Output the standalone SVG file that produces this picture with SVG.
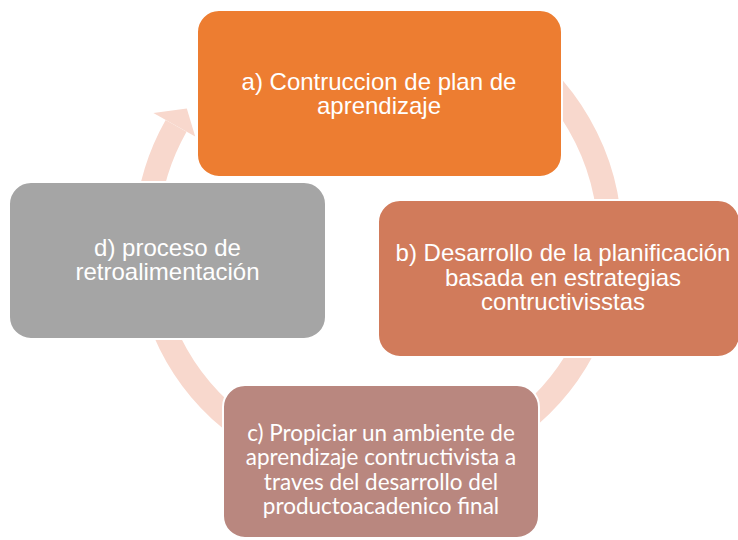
<svg xmlns="http://www.w3.org/2000/svg" width="738" height="540" viewBox="0 0 738 540">
  <style>
    .arc { fill: none; stroke: #F8D8CD; stroke-width: 24; }
    .head { fill: #F8D8CD; }
    .box { stroke: #FFFFFF; stroke-width: 2; }
    .t { font-family: "Liberation Sans", Arial, sans-serif; font-size: 24px; fill: #FFFFFF; text-anchor: middle; }
    .tc { font-family: Lato, "Liberation Sans", sans-serif; font-size: 22.5px; fill: #FFFFFF; text-anchor: middle; }
  </style>
  <rect width="738" height="540" fill="#FFFFFF"/>
  <g id="connectors">
    <path class="arc" d="M610,240 A232,232 0 1 1 176.1,125.8"/>
    <path class="arc" d="M494,39.1 A232,232 0 0 1 610,240"/>
    <polygon class="head" points="153.4,113 186.8,108.6 195.2,136.6"/>
  </g>
  <g id="node-a">
    <rect class="box" x="197" y="10" width="365" height="167" rx="22" fill="#ED7D31"/>
    <text class="t" x="379" y="90">a) Contruccion de plan de</text>
    <text class="t" x="379" y="114">aprendizaje</text>
  </g>
  <g id="node-b">
    <rect class="box" x="378" y="200" width="362" height="157" rx="22" fill="#D17B5B"/>
    <text class="t" x="563" y="261">b) Desarrollo de la planificación</text>
    <text class="t" x="563" y="285.5">basada en estrategias</text>
    <text class="t" x="563" y="310">contructivisstas</text>
  </g>
  <g id="node-c">
    <rect class="box" x="223" y="385" width="316" height="153" rx="22" fill="#B9877F"/>
    <text class="tc" x="381" y="440.5">c) Propiciar un ambiente de</text>
    <text class="tc" x="381" y="465">aprendizaje contructivista a</text>
    <text class="tc" x="381" y="489.5">traves del desarrollo del</text>
    <text class="tc" x="381" y="514">productoacadenico final</text>
  </g>
  <g id="node-d">
    <rect class="box" x="9" y="182" width="317" height="157" rx="22" fill="#A5A5A5"/>
    <text class="t" x="167.5" y="256">d) proceso de</text>
    <text class="t" x="167.5" y="280">retroalimentación</text>
  </g>
</svg>
